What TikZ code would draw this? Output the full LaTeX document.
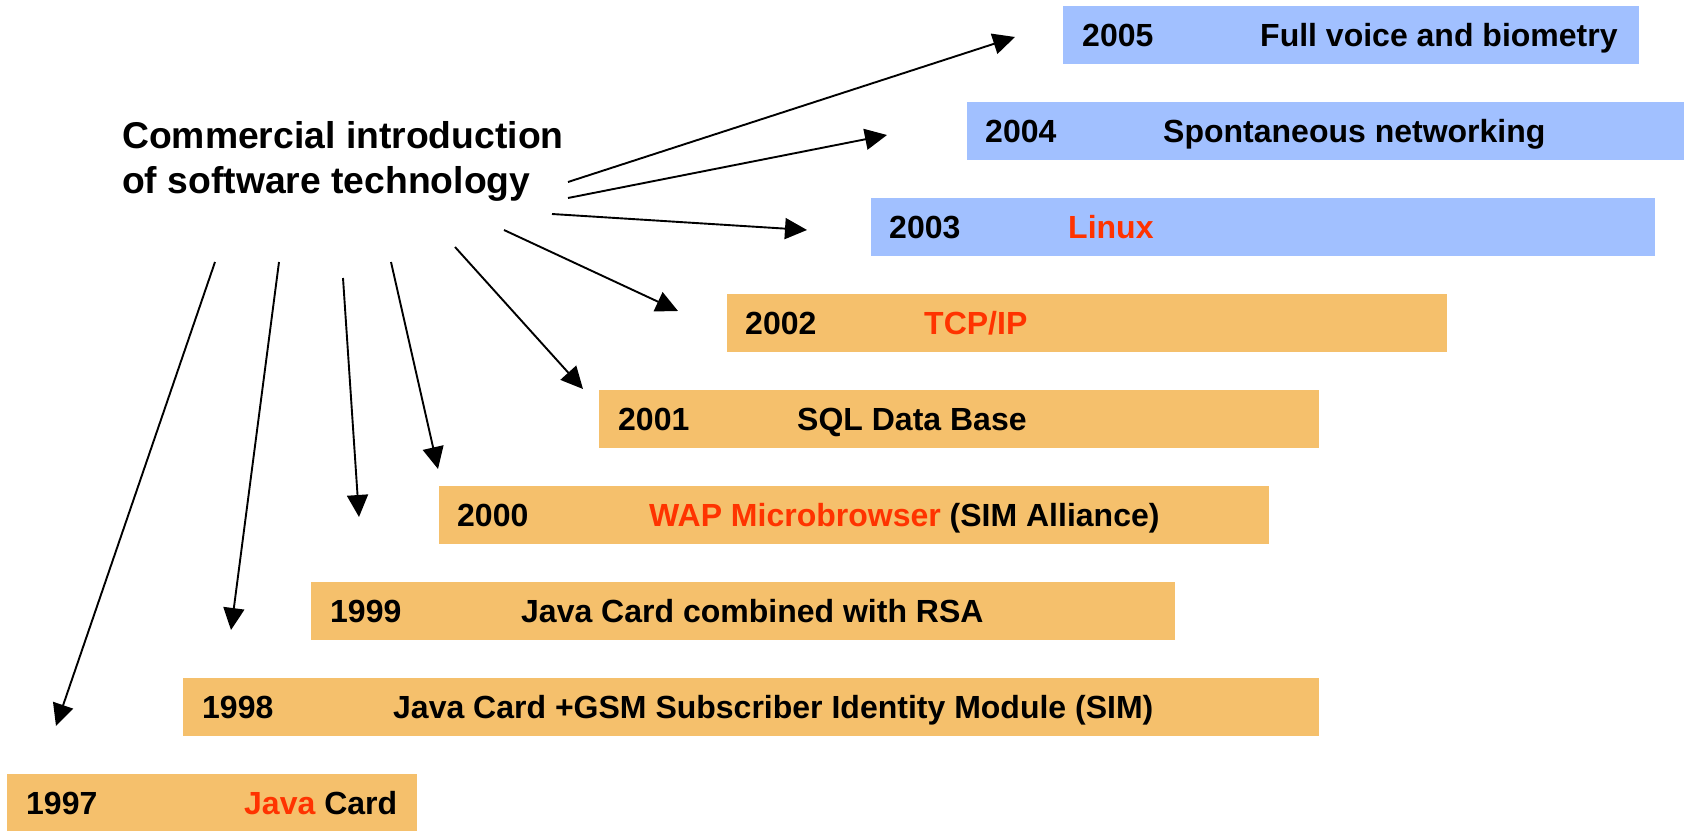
\documentclass[tikz,border=0pt]{standalone}
\usepackage{fontspec}
\setmainfont{Liberation Sans}
\usetikzlibrary{arrows.meta}
\definecolor{boxorange}{RGB}{245,192,108}
\definecolor{boxblue}{RGB}{161,192,255}
\definecolor{hired}{RGB}{255,51,0}
\begin{document}
\begin{tikzpicture}[x=1pt,y=-1pt,
  bar/.style={draw=none, inner sep=0pt, outer sep=0pt, anchor=north west, minimum height=58pt},
  orangebar/.style={bar, fill=boxorange},
  bluebar/.style={bar, fill=boxblue},
  lbl/.style={anchor=base west, inner sep=0pt, font=\fontsize{32}{38}\selectfont\bfseries},
  ttl/.style={anchor=base west, inner sep=0pt, font=\fontsize{37.3}{45}\selectfont\bfseries},
  arr/.style={-{Triangle[length=22pt,width=21pt]}, line width=1.9pt}]
\useasboundingbox (0,0) rectangle (1684,830);

% bars
\node[bluebar,   minimum width=576pt] (b2005) at (1063,6) {};
\node[bluebar,   minimum width=717pt] (b2004) at (967,102) {};
\node[bluebar,   minimum width=784pt] (b2003) at (871,198) {};
\node[orangebar, minimum width=720pt] (b2002) at (727,294) {};
\node[orangebar, minimum width=720pt] (b2001) at (599,390) {};
\node[orangebar, minimum width=830pt] (b2000) at (439,486) {};
\node[orangebar, minimum width=864pt] (b1999) at (311,582) {};
\node[orangebar, minimum width=1136pt] (b1998) at (183,678) {};
\node[orangebar, minimum width=410pt] (b1997) at (7,774) {};

% years and descriptions
\node[lbl] (y2005) at (1082,46.5) {2005};
\node[lbl] (d2005) at (1260,46.5) {Full voice and biometry};
\node[lbl] (y2004) at (985,142.5) {2004};
\node[lbl] (d2004) at (1163,142.5) {Spontaneous networking};
\node[lbl] (y2003) at (889,238.5) {2003};
\node[lbl, text=hired] (d2003) at (1068,238.5) {Linux};
\node[lbl] (y2002) at (745,334.5) {2002};
\node[lbl, text=hired] (d2002) at (924,334.5) {TCP/IP};
\node[lbl] (y2001) at (618,430.5) {2001};
\node[lbl] (d2001) at (797,430.5) {SQL Data Base};
\node[lbl] (y2000) at (457,526.5) {2000};
\node[lbl] (d2000) at (649,526.5) {\textcolor{hired}{WAP Microbrowser} (SIM Alliance)};
\node[lbl] (y1999) at (330,622.5) {1999};
\node[lbl] (d1999) at (521,622.5) {Java Card combined with RSA};
\node[lbl] (y1998) at (202,718.5) {1998};
\node[lbl] (d1998) at (393,718.5) {Java Card +GSM Subscriber Identity Module (SIM)};
\node[lbl] (y1997) at (26,814.5) {1997};
\node[lbl] (d1997) at (244,814.5) {\textcolor{hired}{Java} Card};

% title
\node[ttl] (t1) at (122,148) {Commercial introduction};
\node[ttl] (t2) at (122,193) {of software technology};

% arrow ends
\coordinate (s5) at (568,182); \coordinate (e5) at (1015,37);
\coordinate (s4) at (568,198); \coordinate (e4) at (887,135);
\coordinate (s3) at (552,214); \coordinate (e3) at (807,230);
\coordinate (s2) at (504,230); \coordinate (e2) at (678,311);
\coordinate (s1) at (455,247); \coordinate (e1) at (583,389);
\coordinate (s0) at (391,262); \coordinate (e0) at (438,469);
\coordinate (s9) at (343,278); \coordinate (e9) at (359,517);
\coordinate (s8) at (279,262); \coordinate (e8) at (231,630);
\coordinate (s7) at (215,262); \coordinate (e7) at (56,726);

\draw[arr] (s5) -- (e5);
\draw[arr] (s4) -- (e4);
\draw[arr] (s3) -- (e3);
\draw[arr] (s2) -- (e2);
\draw[arr] (s1) -- (e1);
\draw[arr] (s0) -- (e0);
\draw[arr] (s9) -- (e9);
\draw[arr] (s8) -- (e8);
\draw[arr] (s7) -- (e7);
\end{tikzpicture}
\end{document}
